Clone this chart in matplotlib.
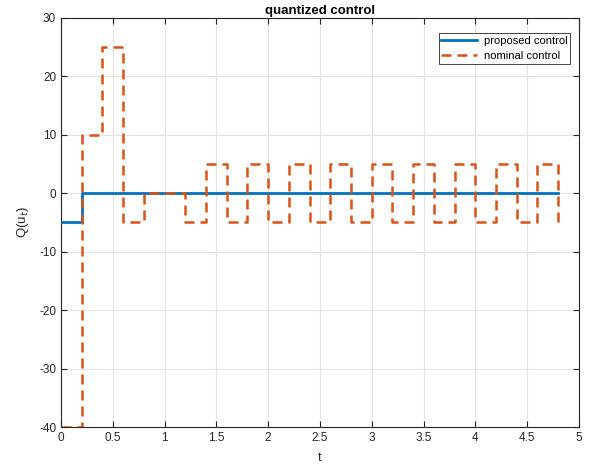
import numpy as np
import matplotlib
matplotlib.use("Agg")
import matplotlib.pyplot as plt

plt.rcParams['font.family'] = ['Liberation Sans', 'DejaVu Sans']
plt.rcParams['axes.unicode_minus'] = False

# sample times (step of 0.2)
t = np.round(np.arange(0, 4.81, 0.2), 2)

# quantized controls
proposed = [-5] + [0] * 24
nominal = [-40, 10, 25, -5, 0, 0,
           -5, 5, -5, 5, -5, 5, -5, 5, -5, 5,
           -5, 5, -5, 5, -5, 5, -5, 5, -5]

fig = plt.figure(figsize=(5.98, 4.68), dpi=100)
ax = fig.add_axes([0.102, 0.0876, 0.866, 0.874])

ax.step(t, proposed, where='post', color='#0072BD', lw=2.0,
        label='proposed control', zorder=3)
ax.step(t, nominal, where='post', color='#D95319', lw=1.8,
        dashes=(4, 2.4), label='nominal control', zorder=4)

ax.set_xlim(0, 5)
ax.set_ylim(-40, 30)
ax.set_xticks(np.arange(0, 5.01, 0.5))
ax.set_xticklabels(['0', '0.5', '1', '1.5', '2', '2.5', '3', '3.5', '4', '4.5', '5'])
ax.set_yticks(np.arange(-40, 31, 10))

ax.grid(True, color='#e3e3e3', lw=0.8)
ax.set_axisbelow(True)
for s in ax.spines.values():
    s.set_color('#262626')
    s.set_linewidth(0.8)
ax.tick_params(direction='in', top=True, right=True, length=4,
               labelsize=8.5, colors='#262626', width=0.8)

ax.set_title('quantized control', fontsize=9.5, fontweight='bold', pad=3)
ax.set_xlabel('t', fontsize=9.5, color='#262626', labelpad=6)
ax.set_ylabel('Q(u$_t$)', fontsize=9.5, color='#262626', labelpad=6)

leg = ax.legend(loc='upper right', bbox_to_anchor=(0.983, 0.963),
                borderaxespad=0, fontsize=8, fancybox=False,
                edgecolor='#262626', framealpha=1, handlelength=3.2,
                borderpad=0.25, labelspacing=0.45, handletextpad=0.6)
leg.get_frame().set_linewidth(0.6)

fig.savefig('out.png', dpi=100)
